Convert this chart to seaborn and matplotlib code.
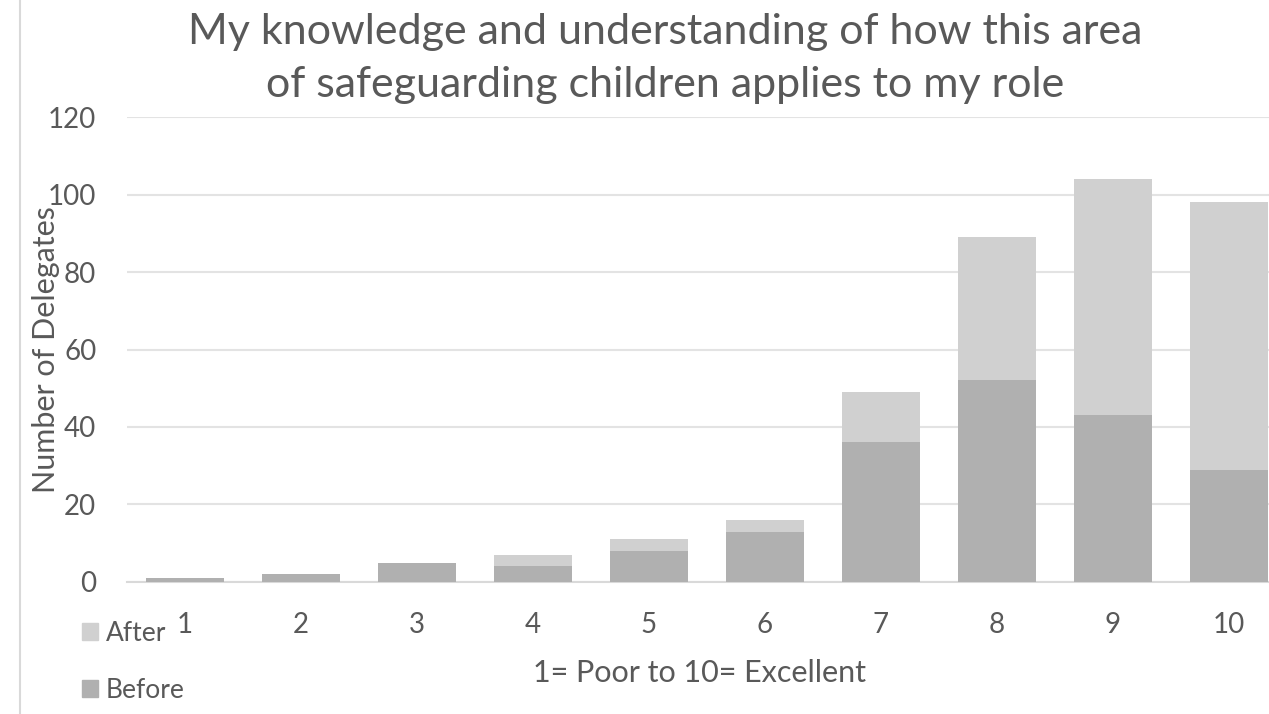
import pandas as pd
import matplotlib.pyplot as plt
import seaborn as sns
from matplotlib.patches import Patch
from matplotlib.lines import Line2D

# Chart data
scores = ['1', '2', '3', '4', '5', '6', '7', '8', '9', '10']
before = [1, 2, 5, 4, 8, 13, 36, 52, 43, 29]
after = [0, 0, 0, 3, 3, 3, 13, 37, 61, 69]

df = pd.DataFrame({'score': scores, 'before': before, 'after': after})
df['total'] = df['before'] + df['after']

sns.set_theme(style='white')
plt.rcParams['font.family'] = ['Lato', 'DejaVu Sans']
text_col = '#595959'
after_col = '#d0d0d0'
before_col = '#b0b0b0'

fig = plt.figure(figsize=(12.69, 7.14), dpi=100)
ax = fig.add_axes([0.1, 0.185, 0.914, 0.651])

# stacked: total (after on top) drawn first, before drawn over it
sns.barplot(data=df, x='score', y='total', color=after_col, width=0.67,
            saturation=1, linewidth=0, ax=ax, zorder=3)
sns.barplot(data=df, x='score', y='before', color=before_col, width=0.67,
            saturation=1, linewidth=0, ax=ax, zorder=4)

ax.set_ylim(0, 120)
ax.set_xlim(-0.5, 9.5)
ax.set_yticks(range(0, 121, 20))
ax.yaxis.grid(True, color='#e3e3e3', linewidth=1.5, zorder=0)
ax.set_axisbelow(True)
for s in ['top', 'right', 'left']:
    ax.spines[s].set_visible(False)
ax.spines['bottom'].set_color('#d9d9d9')
ax.spines['bottom'].set_linewidth(1.5)
ax.tick_params(axis='y', length=0, pad=22, labelsize=20, labelcolor=text_col)
ax.tick_params(axis='x', length=0, pad=22, labelsize=20, labelcolor=text_col)
ax.set_xlabel('')
ax.set_ylabel('')

# titles and axis labels
fig.text(0.524, 0.955, 'My knowledge and understanding of how this area',
         ha='center', va='center', fontsize=31, color=text_col)
fig.text(0.524, 0.881, 'of safeguarding children applies to my role',
         ha='center', va='center', fontsize=31, color=text_col)
fig.text(0.036, 0.51, 'Number of Delegates', rotation=90, ha='center',
         va='center', fontsize=22, color=text_col)
fig.text(0.551, 0.058, '1= Poor to 10= Excellent', ha='center', va='center',
         fontsize=22, color=text_col)

# left border of chart area
fig.add_artist(Line2D([0.016, 0.016], [0.0, 1.0], color='#d9d9d9', lw=1.5))

handles = [Patch(color=after_col), Patch(color=before_col)]
fig.legend(handles, ['After', 'Before'], loc='upper left',
           bbox_to_anchor=(0.048, 0.16), frameon=False, fontsize=19,
           labelcolor=text_col, handlelength=0.6, handleheight=0.6,
           handletextpad=0.3, labelspacing=1.2, borderpad=0.3)

fig.savefig('out.png', dpi=100)
